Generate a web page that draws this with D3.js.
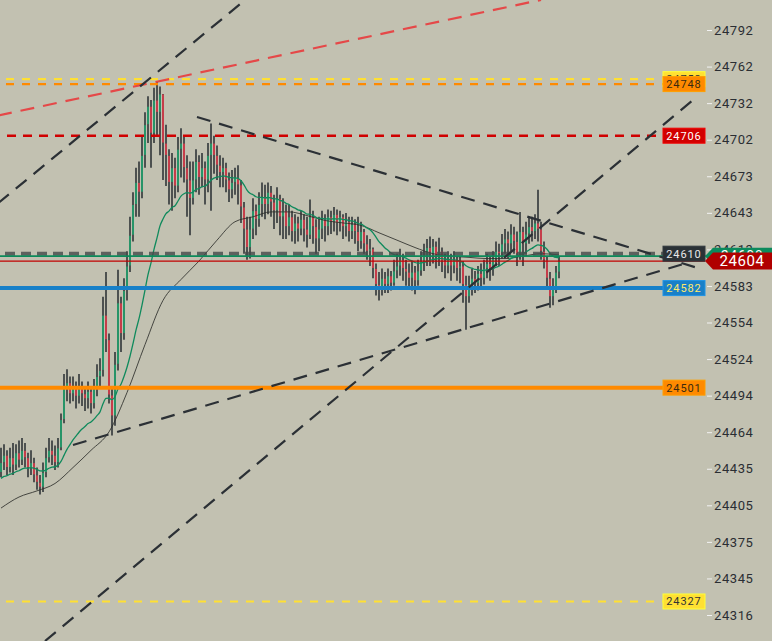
<!DOCTYPE html>
<html><head><meta charset="utf-8">
<script src="https://cdn.jsdelivr.net/npm/d3@7"></script>
<style>body{margin:0;background:#c2c1b1;}svg{display:block}</style>
</head><body><svg id="c" width="772" height="641"></svg>
<script>
// ---------- DATA ----------
const firstOpen = 24432;
const closes = [
24440,24446,24436,24444,24438,24448,24442,24450,24444,24436,
24440,24430,24424,24420,24432,24444,24450,24446,24440,24452,
24475,24500,24505,24496,24502,24494,24500,24496,24492,24498,
24488,24500,24510,24515,24560,24540,24495,24478,24520,24570,
24545,24580,24600,24625,24650,24668,24660,24690,24715,24730,
24708,24735,24725,24740,24700,24690,24668,24680,24665,24695,
24700,24680,24670,24655,24670,24685,24672,24680,24670,24690,
24700,24690,24682,24676,24680,24670,24662,24668,24672,24666,
24648,24630,24615,24630,24645,24638,24650,24656,24650,24660,
24652,24645,24655,24640,24645,24632,24640,24628,24635,24630,
24638,24630,24625,24640,24632,24622,24630,24638,24632,24640,
24636,24642,24635,24640,24632,24636,24628,24634,24628,24620,
24628,24618,24612,24614,24598,24585,24580,24590,24585,24592,
24586,24596,24600,24605,24598,24595,24590,24595,24588,24596,
24604,24608,24615,24610,24616,24608,24612,24604,24600,24606,
24600,24605,24598,24600,24585,24575,24585,24590,24586,24594,
24590,24598,24602,24598,24606,24612,24610,24618,24622,24618,
24626,24620,24610,24628,24618,24626,24632,24628,24635,24630,
24612,24605,24590,24575,24582,24595,24604];
const highs = [
24452,24455,24450,24452,24456,24455,24458,24460,24456,24448,
24450,24444,24436,24430,24440,24452,24460,24458,24454,24460,
24480,24512,24516,24510,24510,24506,24512,24506,24502,24506,
24500,24508,24520,24525,24575,24595,24545,24500,24530,24597,
24575,24590,24612,24640,24660,24680,24685,24705,24725,24738,
24735,24745,24750,24746,24740,24715,24695,24692,24688,24705,
24712,24705,24690,24685,24685,24695,24690,24692,24685,24700,
24716,24706,24698,24690,24688,24684,24676,24678,24680,24682,
24670,24652,24640,24640,24655,24650,24660,24668,24666,24668,
24665,24658,24664,24658,24655,24650,24650,24645,24642,24640,
24645,24642,24640,24654,24645,24638,24640,24645,24642,24646,
24645,24648,24646,24645,24642,24643,24640,24640,24638,24640,
24636,24630,24625,24622,24615,24602,24595,24598,24595,24598,
24596,24605,24610,24614,24610,24605,24602,24604,24600,24605,
24612,24618,24622,24624,24622,24620,24623,24615,24610,24612,
24610,24612,24608,24608,24604,24592,24592,24598,24596,24600,
24602,24605,24610,24608,24612,24620,24618,24626,24630,24628,
24634,24632,24628,24644,24632,24636,24640,24640,24642,24662,
24636,24620,24608,24595,24590,24600,24608];
const lows = [
24428,24434,24430,24432,24430,24434,24436,24438,24436,24428,
24430,24424,24418,24414,24416,24428,24440,24438,24434,24436,
24450,24472,24490,24488,24490,24484,24488,24486,24482,24484,
24480,24484,24494,24502,24510,24530,24488,24462,24470,24515,
24530,24540,24572,24595,24620,24640,24640,24655,24680,24700,
24680,24700,24705,24690,24670,24665,24650,24645,24655,24660,
24672,24668,24640,24625,24650,24660,24658,24664,24650,24660,
24645,24675,24670,24664,24664,24660,24652,24655,24658,24650,
24635,24610,24605,24606,24622,24625,24632,24640,24638,24642,
24640,24630,24635,24625,24622,24622,24625,24620,24618,24620,
24625,24620,24615,24622,24618,24610,24612,24622,24620,24625,
24626,24628,24625,24628,24622,24624,24620,24622,24618,24612,
24614,24610,24605,24600,24590,24576,24572,24576,24578,24578,
24580,24584,24590,24592,24588,24584,24582,24580,24577,24584,
24592,24596,24600,24600,24602,24598,24600,24595,24590,24594,
24588,24594,24588,24586,24570,24548,24570,24576,24578,24580,
24582,24585,24590,24588,24592,24600,24600,24606,24610,24606,
24612,24610,24600,24605,24600,24610,24618,24620,24622,24620,
24605,24598,24582,24566,24568,24578,24590];
// slow moving average, read every 6th candle
const slowStep = 6;
const slowMA = [24403,24412,24417,24423,24436,24450,24465,24497,24536,24572,
24589,24604,24621,24636,24640,24644,24644,24641,24637,24635,
24633,24627,24621,24615,24610,24608,24607,24606,24606,24608,24610,24609];
const fastSeed = 24426, fastPeriod = 23;
const tickValues = [24792,24762.25,24732.5,24702.75,24673,24643.25,24613.5,24583.75,
24554,24524.25,24494.5,24464.75,24435,24405.25,24375.5,24345.75,24316];
const levelValues = [24752,24748,24706,24610,24608,24604,24582,24501,24327];
const levelKinds  = ["yellow","orangeD","redD","dark","green","price","blue","orange","yellow"];
// trend lines: [candle index, price] anchors
const trendLines = [
  {kind:"red",   pts:[[-1,24722.4],[180,24816.5]]},
  {kind:"black", pts:[[-1,24651],[82,24817.7]]},
  {kind:"black", pts:[[14.67,24294.8],[230.67,24735.0]]},
  {kind:"black", pts:[[65.33,24721.2],[232.33,24598.3]]},
  {kind:"black", pts:[[24,24454.3],[229.67,24603.2]]}
];
const lastPrice = 24604, greenTag = 24608;

// ---------- STYLES ----------
const styles = {
  yellow:{stroke:"#ffe033",w:2.2,dash:"8,8",x0:6,x1:663,box:"#ffe033",txt:"#333"},
  orangeD:{stroke:"#ff8a00",w:2.2,dash:"8,8",x0:6,x1:663,box:"#ff8a00",txt:"#3a2a10"},
  redD:{stroke:"#d00000",w:2.4,dash:"9,7",x0:7,x1:663,box:"#d20000",txt:"#fff"},
  dark:{stroke:"#454a4a",w:4,dash:"10,6",x0:5,x1:663,box:"#2b3236",txt:"#e8e8e8",op:0.8},
  green:{stroke:"#0b8a5a",w:1.6,x0:0,x1:712},
  price:{stroke:"#c00000",w:1.3,x0:0,x1:705},
  blue:{stroke:"#1780c8",w:4,x0:0,x1:663,box:"#1a80c8",txt:"#ffe96a"},
  orange:{stroke:"#ff8a00",w:4,x0:0,x1:663,box:"#ff8a00",txt:"#3a2a10"}
};

// ---------- CHART ----------
const svg = d3.select("#c");
svg.append("rect").attr("width",772).attr("height",641).attr("fill","#c2c1b1");
const n = closes.length;
const x = d3.scaleLinear().domain([0, n-1]).range([1, 559]);
const y = d3.scaleLinear().domain([24316, 24792]).range([615, 30]);

const candles = closes.map((c,i)=>{
  const o = i===0 ? firstOpen : closes[i-1];
  return {i,o,c,h:Math.max(highs[i],o,c),l:Math.min(lows[i],o,c)};
});
const cg = svg.append("g");
cg.selectAll("line.w").data(candles).join("line")
  .attr("x1",d=>x(d.i)).attr("x2",d=>x(d.i))
  .attr("y1",d=>y(d.h)).attr("y2",d=>y(d.l))
  .attr("stroke","#262b30").attr("stroke-width",1.5);
cg.selectAll("rect").data(candles).join("rect")
  .attr("x",d=>x(d.i)-0.8).attr("width",1.6)
  .attr("y",d=>y(Math.max(d.o,d.c))+0.5)
  .attr("height",d=>Math.max(0.8,Math.abs(y(d.o)-y(d.c))-1))
  .attr("fill",d=>d.c>=d.o?"#1ea56f":"#e3394a");

// moving averages
const fast=[]; let e=fastSeed; const a=2/(fastPeriod+1);
closes.forEach((c,i)=>{e=e+a*(c-e);fast.push([i,e]);});
svg.append("path").datum(slowMA.map((v,k)=>[k*slowStep,v]))
  .attr("d",d3.line().x(d=>x(d[0])).y(d=>y(d[1])).curve(d3.curveMonotoneX))
  .attr("fill","none").attr("stroke","#2e2f2c").attr("stroke-width",1).attr("opacity",0.85);
svg.append("path").datum(fast)
  .attr("d",d3.line().x(d=>x(d[0])).y(d=>y(d[1])).curve(d3.curveMonotoneX))
  .attr("fill","none").attr("stroke","#0f8a5c").attr("stroke-width",1.3);

// horizontal levels
const lg = svg.append("g");
levelValues.forEach((v,k)=>{
  const s = styles[levelKinds[k]];
  lg.append("line").attr("x1",s.x0).attr("x2",s.x1).attr("y1",y(v)).attr("y2",y(v))
    .attr("stroke",s.stroke).attr("stroke-width",s.w)
    .attr("stroke-dasharray",s.dash||null).attr("opacity",s.op||1);
});

// trend lines
trendLines.forEach(t=>{
  svg.append("line")
    .attr("x1",x(t.pts[0][0])).attr("y1",y(t.pts[0][1]))
    .attr("x2",x(t.pts[1][0])).attr("y2",y(t.pts[1][1]))
    .attr("stroke",t.kind==="red"?"#e54848":"#2b3035")
    .attr("stroke-width",2.2).attr("stroke-dasharray","14,9");
});

// axis
const ax = svg.append("g").attr("transform","translate(707,0)")
  .call(d3.axisRight(y).tickValues(tickValues).tickFormat(v=>String(Math.floor(v))).tickSize(5).tickPadding(2));
ax.select(".domain").remove();
ax.selectAll(".tick line").attr("stroke","#f2f2f2");
ax.selectAll(".tick text").attr("fill","#2a2e33").style("font","13px Roboto").style("letter-spacing","0.6px");

// level label boxes
levelValues.forEach((v,k)=>{
  const s = styles[levelKinds[k]];
  if(!s.box) return;
  const g = svg.append("g").attr("transform",`translate(663,${y(v)})`);
  g.append("rect").attr("x",0).attr("y",-7.5).attr("width",42).attr("height",15)
    .attr("fill",s.box).attr("stroke",d3.color(s.box).brighter(0.4)).attr("stroke-width",1);
  g.append("text").attr("x",21).attr("y",4).attr("text-anchor","middle")
    .attr("fill",s.txt).style("font","11px Roboto").style("letter-spacing","0.9px").text(v);
});

// price tags
function tag(v,fill,fs){
  const yy=y(v);
  const g=svg.append("g");
  g.append("path").attr("d",`M705,${yy} L713,${yy-8.5} L772,${yy-8.5} L772,${yy+8.5} L713,${yy+8.5} Z`).attr("fill",fill);
  g.append("text").attr("x",742).attr("y",yy+5).attr("text-anchor","middle").attr("fill","#fff")
   .style("font",`${fs}px Roboto`).style("letter-spacing","0.6px").text(v);
}
tag(greenTag,"#0b8a5c",14);
tag(lastPrice,"#b00000",15);
</script></body></html>
